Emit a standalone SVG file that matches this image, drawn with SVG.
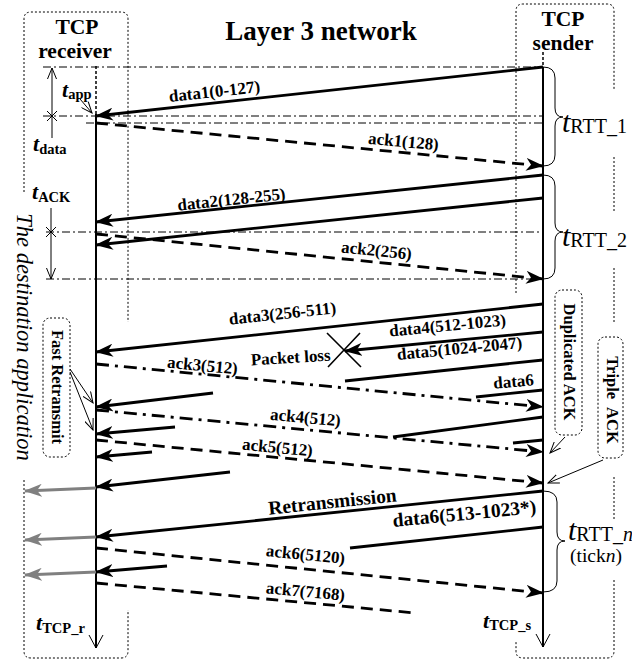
<svg xmlns="http://www.w3.org/2000/svg" width="632" height="662" viewBox="0 0 632 662">
<style>
text{font-family:"Liberation Serif","Times New Roman",serif;fill:#000}
.b{font-weight:bold}
.h{font-weight:bold;font-size:21.5px;text-anchor:middle}
.lbl{font-weight:bold;font-size:17px;text-anchor:middle}
.big{font-size:19.5px}
.dd{stroke:#000;stroke-width:1;stroke-dasharray:8 3 2 3;fill:none}
.box{stroke:#000;stroke-width:1;stroke-dasharray:2 2;fill:none}
.thin{stroke:#000;stroke-width:1;fill:none}
.ln{stroke:#000;stroke-width:2.8;fill:none}
.arr{marker-end:url(#ah)}
.dash{stroke-dasharray:12 7}
.dashdot{stroke-dasharray:13 6 3 6}
.grey{stroke:#808080;stroke-width:3;fill:none;marker-end:url(#gh)}
.oa{marker-end:url(#oh)}
.tt{font-weight:bold;font-style:italic;font-size:22px}
.ts{font-weight:bold;font-size:14.5px}
.tr{font-style:italic;font-size:30px}
.rs{font-size:20px}
</style>
<defs>
<marker id="ah" markerUnits="userSpaceOnUse" markerWidth="18" markerHeight="13" viewBox="0 0 18 13" refX="17" refY="6.5" orient="auto">
<path d="M0,0 L18,6.5 L0,13 L5,6.5 z" fill="#000"/>
</marker>
<marker id="gh" markerUnits="userSpaceOnUse" markerWidth="18" markerHeight="13" viewBox="0 0 18 13" refX="17" refY="6.5" orient="auto">
<path d="M0,0 L18,6.5 L0,13 L5,6.5 z" fill="#808080"/>
</marker>
<marker id="oh" markerUnits="userSpaceOnUse" markerWidth="12" markerHeight="10" viewBox="0 0 12 10" refX="11" refY="5" orient="auto">
<path d="M0,0.5 L11,5 L0,9.5" fill="none" stroke="#000" stroke-width="1"/>
</marker>
</defs>

<g id="receiver">
<path class="box" d="M24,192 L24,19 Q24,12 31,12 L121,12 Q128,12 128,19 L128,322"/>
<path class="box" d="M24,480 L24,651 Q24,658 31,658 L121,658 Q128,658 128,651 L128,610"/>
<text class="h" x="77" y="34">TCP</text>
<text class="h" x="75" y="58">receiver</text>
<line x1="96" y1="66" x2="96" y2="114" stroke="#000" stroke-width="1.5" stroke-dasharray="3 2"/>
<line x1="96" y1="114" x2="96" y2="648" stroke="#000" stroke-width="2"/>
<polyline class="thin" points="89,635 96,648 103,635" stroke-width="1.5"/>
<text x="36" y="630"><tspan class="tt">t</tspan><tspan class="ts" dy="3">TCP_r</tspan></text>
</g>

<g id="sender">
<path class="box" d="M516,293 L516,11 Q516,4 523,4 L607,4 Q614,4 614,11 L614,89"/>
<path class="box" d="M614,157 L614,213 M614,268 L614,322 M614,477 L614,520"/>
<path class="box" d="M614,580 L614,651 Q614,658 607,658 L523,658 Q516,658 516,651 L516,642"/>
<text class="h" x="563" y="26">TCP</text>
<text class="h" x="563" y="50">sender</text>
<line x1="543" y1="52" x2="543" y2="67" stroke="#000" stroke-width="1.5" stroke-dasharray="3 2"/>
<line x1="543" y1="67" x2="543" y2="647" stroke="#000" stroke-width="2"/>
<polyline class="thin" points="536,634 543,647 550,634" stroke-width="1.5"/>
<text x="483" y="628"><tspan class="tt">t</tspan><tspan class="ts" dy="2">TCP_s</tspan></text>
</g>

<g id="title">
<text x="321" y="40" class="b" font-size="27" text-anchor="middle">Layer 3 network</text>
</g>

<g id="destination">
<text transform="translate(17,337) rotate(90)" font-style="italic" font-size="22.5" text-anchor="middle">The destination application</text>
</g>

<g id="timing">
<line class="dd" x1="43" y1="67" x2="543" y2="67"/>
<line class="dd" x1="43" y1="116" x2="543" y2="116"/>
<line class="dd" x1="86" y1="123" x2="543" y2="123"/>
<line class="dd" x1="46" y1="232" x2="543" y2="232"/>
<line class="dd" x1="46" y1="279" x2="543" y2="279"/>
<line class="thin oa" x1="52" y1="138" x2="52" y2="68"/>
<path class="thin" d="M47,111 L57,121 M47,121 L57,111"/>
<line class="thin oa" x1="51" y1="208" x2="51" y2="279"/>
<path class="thin" d="M46,227 L56,237 M46,237 L56,227"/>
<line class="thin oa" x1="80" y1="99" x2="92" y2="113"/>
<text x="62" y="97"><tspan class="tt">t</tspan><tspan class="ts" dy="2">app</tspan></text>
<text x="33" y="151"><tspan class="tt">t</tspan><tspan class="ts" dy="3">data</tspan></text>
<text x="32" y="199"><tspan class="tt">t</tspan><tspan class="ts" dy="3">ACK</tspan></text>
</g>

<g id="rtt1">
<path class="thin" d="M543,67 Q555,67 555,78 L555,108 Q555,117 563,117 Q555,117 555,126 L555,155 Q555,166 543,166"/>
<text x="562" y="132"><tspan class="tr">t</tspan><tspan class="rs" dy="1">RTT_1</tspan></text>
</g>
<g id="rtt2">
<path class="thin" d="M543,175 Q555,175 555,186 L555,223 Q555,232 563,232 Q555,232 555,241 L555,268 Q555,279 543,279"/>
<text x="562" y="246"><tspan class="tr">t</tspan><tspan class="rs" dy="1">RTT_2</tspan></text>
</g>
<g id="rttn">
<path class="thin" d="M543,491 Q557,491 557,502 L557,532 Q557,541 565,541 Q557,541 557,550 L557,581 Q557,592 543,592"/>
<text x="568" y="540"><tspan class="tr">t</tspan><tspan class="rs" dy="1">RTT_</tspan><tspan class="rs" font-style="italic">n</tspan></text>
<text x="570" y="562" font-size="19.5">(tick<tspan font-style="italic">n</tspan>)</text>
</g>

<g id="fast-retransmit">
<rect class="box" x="43" y="318" width="27" height="139" rx="7"/>
<text class="b" font-size="16.5" text-anchor="middle" transform="translate(52,387) rotate(90)">Fast Retransmit</text>
<line class="thin oa" x1="70" y1="369" x2="93" y2="403"/>
<line class="thin oa" x1="70" y1="372" x2="93" y2="430"/>
</g>

<g id="duplicated-ack">
<rect class="box" x="555" y="290" width="27" height="145" rx="7"/>
<text class="b" font-size="16.5" text-anchor="middle" transform="translate(564,362) rotate(90)">Duplicated ACK</text>
<line class="thin oa" x1="565" y1="437" x2="550" y2="453"/>
</g>

<g id="triple-ack">
<rect class="box" x="598" y="337" width="25" height="121" rx="7"/>
<text class="b" font-size="16.5" text-anchor="middle" transform="translate(607,400) rotate(90)">Triple<tspan dx="8">ACK</tspan></text>
<line class="thin oa" x1="603" y1="460" x2="548" y2="483"/>
</g>

<g id="connectors">
<line class="ln arr" x1="543" y1="67" x2="96" y2="116"/>
<line class="ln arr dash" x1="96" y1="123" x2="543" y2="166"/>
<line class="ln arr" x1="543" y1="175" x2="96" y2="222"/>
<line class="ln arr" x1="543" y1="198" x2="96" y2="245"/>
<line class="ln arr dash" x1="96" y1="234" x2="543" y2="279"/>
<line class="ln arr" x1="543" y1="304" x2="96" y2="352"/>
<line class="ln arr" x1="543" y1="332" x2="345" y2="351"/>
<line class="ln" x1="543" y1="360" x2="345" y2="381"/>
<line class="ln" x1="543" y1="390" x2="476" y2="397"/>
<line class="ln arr dashdot" x1="96" y1="364" x2="543" y2="407"/>
<line class="ln arr" x1="213" y1="393" x2="96" y2="407"/>
<line class="ln" x1="543" y1="417" x2="393" y2="437"/>
<line class="ln arr" x1="175" y1="427" x2="96" y2="434"/>
<line class="ln" x1="543" y1="440" x2="513" y2="443"/>
<line class="ln arr dashdot" x1="96" y1="410" x2="543" y2="452"/>
<line class="ln arr" x1="152" y1="452" x2="96" y2="457"/>
<line class="ln arr dash" x1="96" y1="440" x2="543" y2="483"/>
<line class="ln arr" x1="230" y1="472" x2="96" y2="487"/>
<line class="ln arr" x1="543" y1="491" x2="96" y2="537"/>
<line class="ln" x1="543" y1="527" x2="350" y2="548"/>
<line class="ln arr" x1="167" y1="566" x2="96" y2="572"/>
<line class="ln arr dash" x1="96" y1="548" x2="543" y2="593"/>
<line class="ln dash" x1="96" y1="583" x2="415" y2="613"/>
<line class="grey" x1="96" y1="488" x2="25" y2="491"/>
<line class="grey" x1="96" y1="537" x2="25" y2="540"/>
<line class="grey" x1="96" y1="572" x2="25" y2="575"/>
<path d="M327,333 L361,367 M328,367 L360,333" stroke="#000" stroke-width="1.6" fill="none"/>
</g>

<g id="labels">
<text class="lbl" transform="translate(215,97) rotate(-6.3)">data1(0-127)</text>
<text class="lbl" transform="translate(403,147) rotate(5.4)">ack1(128)</text>
<text class="lbl" transform="translate(232,205) rotate(-6)">data2(128-255)</text>
<text class="lbl" transform="translate(376,256) rotate(5.8)">ack2(256)</text>
<text class="lbl" transform="translate(283,319) rotate(-6.1)">data3(256-511)</text>
<text class="lbl" transform="translate(448,331) rotate(-5.5)">data4(512-1023)</text>
<text class="lbl" transform="translate(460,354) rotate(-5.5)">data5(1024-2047)</text>
<text class="lbl" transform="translate(514,387) rotate(-5)">data6</text>
<text class="lbl" transform="translate(291,363) rotate(-3.5)">Packet loss</text>
<text class="lbl" transform="translate(202,371) rotate(5.5)">ack3(512)</text>
<text class="lbl" transform="translate(305,423) rotate(5.4)">ack4(512)</text>
<text class="lbl" transform="translate(277,453) rotate(5.5)">ack5(512)</text>
<text class="lbl big" transform="translate(333,508) rotate(-5.9)">Retransmission</text>
<text class="lbl big" transform="translate(465,520) rotate(-5.5)">data6(513-1023*)</text>
<text class="lbl" transform="translate(305,560) rotate(5.7)">ack6(5120)</text>
<text class="lbl" transform="translate(305,597) rotate(5.4)">ack7(7168)</text>
</g>
</svg>
